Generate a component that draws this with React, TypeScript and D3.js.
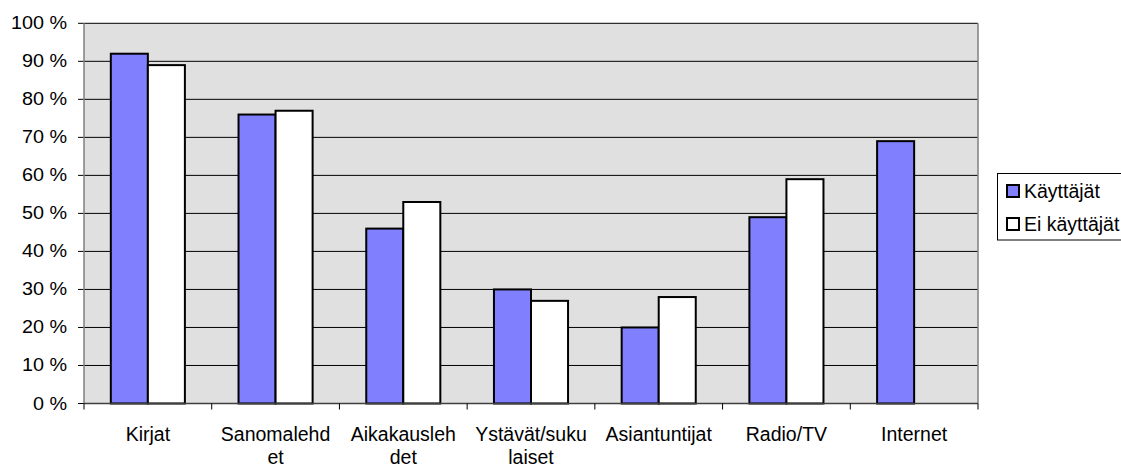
import React from "react";
import * as d3 from "d3";

const categories = ["Kirjat", "Sanomalehdet", "Aikakauslehdet", "Ystävät/sukulaiset", "Asiantuntijat", "Radio/TV", "Internet"];
const categoryLabelLines = [["Kirjat"], ["Sanomalehd", "et"], ["Aikakausleh", "det"], ["Ystävät/suku", "laiset"], ["Asiantuntijat"], ["Radio/TV"], ["Internet"]];
const seriesNames = ["Käyttäjät", "Ei käyttäjät"];
const kayttajat = [92, 76, 46, 30, 20, 49, 69];
const eiKayttajat: (number | null)[] = [89, 77, 53, 27, 28, 59, null];
const yTicks = [0, 10, 20, 30, 40, 50, 60, 70, 80, 90, 100];
const colors = ["#8080ff", "#ffffff"];

export default function App() {
  const W = 1121, H = 468;
  const left = 84, right = 978, top = 23.3, bottom = 403.5;
  const x = d3.scaleBand<string>().domain(categories).range([left, right]).paddingInner(0).paddingOuter(0);
  const y = d3.scaleLinear().domain([0, 100]).range([bottom, top]);
  const groupW = x.bandwidth() * 0.58;
  const xs = d3.scaleBand<number>().domain([0, 1]).range([0, groupW]);
  const series = [kayttajat, eiKayttajat];
  const font = "'Liberation Sans', Arial, sans-serif";
  return (
    <svg width={W} height={H} style={{ position: "absolute", left: 0, top: 0 }} fontFamily={font}>
      <rect x={left} y={top} width={right - left} height={bottom - top} fill="#e0e0e0" />
      {yTicks.map((t) => (
        <g key={t}>
          {t > 0 && <line x1={left} x2={right} y1={y(t)} y2={y(t)} stroke="#000" strokeWidth={1} />}
          <line x1={left - 6} x2={left} y1={y(t)} y2={y(t)} stroke="#000" strokeWidth={1} />
          <text transform={`translate(67,${y(t) + 6}) scale(1.1,1)`} textAnchor="end" fontSize={18} fill="#000">{`${t} %`}</text>
        </g>
      ))}
      <line x1={left} x2={left} y1={top} y2={bottom} stroke="#808080" strokeWidth={1.5} />
      <line x1={right} x2={right} y1={top} y2={bottom} stroke="#808080" strokeWidth={1.5} />
      {series.map((vals, si) =>
        categories.map((c, i) => {
          const v = vals[i];
          if (v == null) return null;
          const bx = (x(c) as number) + (x.bandwidth() - groupW) / 2 + (xs(si) as number);
          return (
            <rect key={`${si}-${i}`} x={bx} y={y(v)} width={xs.bandwidth()} height={bottom - y(v)}
              fill={colors[si]} stroke="#000" strokeWidth={2} />
          );
        })
      )}
      <line x1={left} x2={right} y1={bottom} y2={bottom} stroke="#404040" strokeWidth={1.5} />
      {[...categories.map((c) => x(c) as number), right].map((tx, i) => (
        <line key={i} x1={tx} x2={tx} y1={bottom} y2={bottom + 6} stroke="#000" strokeWidth={1} />
      ))}
      {categories.map((c, i) => (
        <text key={c} x={(x(c) as number) + x.bandwidth() / 2} y={441} textAnchor="middle" fontSize={19.5} fill="#000">
          {categoryLabelLines[i].map((ln, j) => (
            <tspan key={j} x={(x(c) as number) + x.bandwidth() / 2} dy={j === 0 ? 0 : 23}>{ln}</tspan>
          ))}
        </text>
      ))}
      <rect x={997.5} y={173.5} width={140} height={66.5} fill="#fff" stroke="#000" strokeWidth={1} />
      {seriesNames.map((s, i) => (
        <g key={s}>
          <rect x={1007} y={185 + i * 33} width={12} height={12} fill={colors[i]} stroke="#000" strokeWidth={2} />
          <text x={1024} y={197.5 + i * 33} fontSize={19.5} fill="#000">{s}</text>
        </g>
      ))}
    </svg>
  );
}
